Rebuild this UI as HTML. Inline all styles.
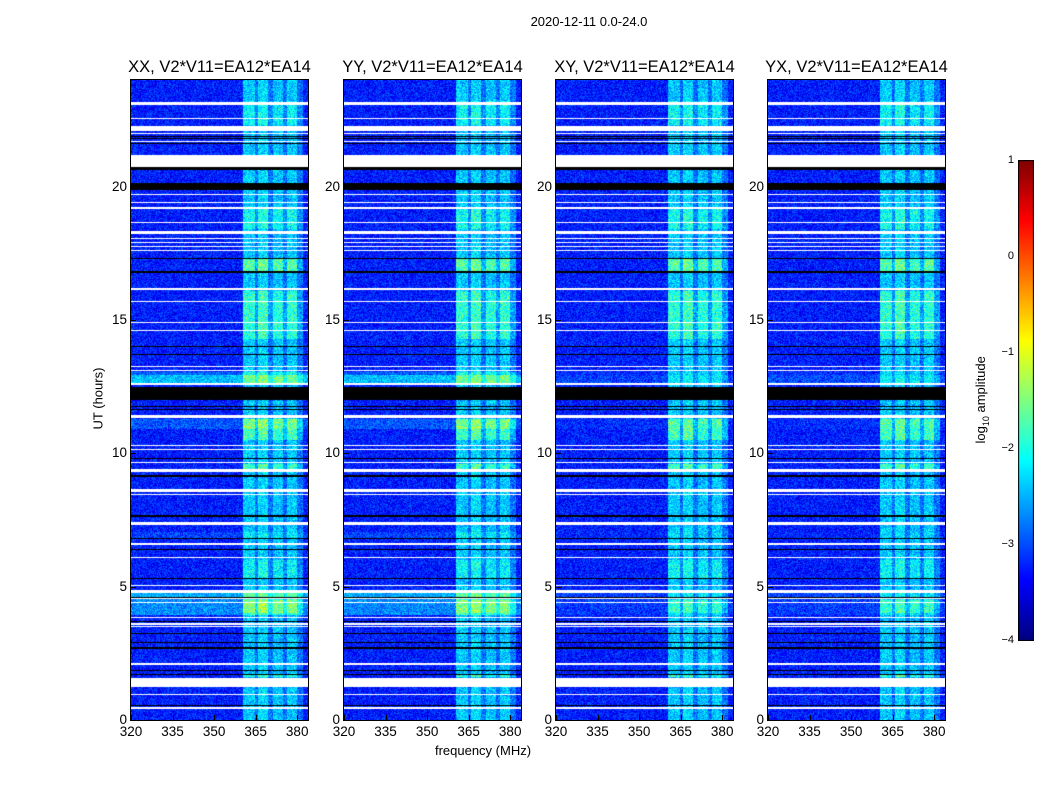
<!DOCTYPE html>
<html><head><meta charset="utf-8"><style>
body{margin:0;background:#fff;width:1050px;height:800px;position:relative;overflow:hidden;font-family:"Liberation Sans",sans-serif;}
.t{position:absolute;white-space:nowrap;color:#000;}
canvas{position:absolute;}
</style></head><body>
<div class="t" style="left:489px;top:14px;width:200px;text-align:center;font-size:13px">2020-12-11 0.0-24.0</div>
<div class="t" style="left:48px;top:391px;width:100px;text-align:center;font-size:13px;transform:rotate(-90deg)">UT (hours)</div>
<div class="t" style="left:383px;top:743px;width:200px;text-align:center;font-size:13px">frequency (MHz)</div>
<div class="t" style="left:922px;top:391px;width:120px;text-align:center;font-size:13px;transform:rotate(-90deg)">log<sub style="font-size:9px">10</sub> amplitude</div>
<canvas id="cb" width="16" height="481" style="left:1018px;top:160px"></canvas>
<div id="root"></div>
<script>
const panelTitles=["XX, V2*V11=EA12*EA14","YY, V2*V11=EA12*EA14","XY, V2*V11=EA12*EA14","YX, V2*V11=EA12*EA14"];
const panelLefts=[131,344,556,768];
const xTicks=[320,335,350,365,380];
const yTicks=[0,5,10,15,20];
const cbTicks=[1,0,-1,-2,-3,-4];
const whiteBands=[[23.06,23.17],[22.55,22.59],[22.09,22.27],[21.99,22.03],[21.69,21.73],[20.74,21.19],[19.7,19.74],[19.37,19.41],[19.18,19.22],[18.65,18.69],[18.22,18.34],[18.05,18.09],[17.9,17.94],[17.75,17.79],[17.6,17.64],[16.12,16.2],[15.69,15.73],[14.87,14.91],[14.6,14.64],[13.22,13.26],[13.07,13.11],[12.56,12.64],[11.32,11.44],[10.29,10.33],[10.14,10.18],[9.65,9.69],[9.3,9.41],[8.55,8.66],[8.42,8.46],[7.31,7.42],[6.58,6.62],[6.09,6.13],[5.04,5.08],[4.76,4.87],[4.55,4.59],[4.37,4.41],[3.82,3.86],[3.58,3.62],[3.47,3.51],[2.08,2.12],[1.24,1.575],[0.95,0.99],[0.43,0.47]];
const blackBands=[[21.86,21.9],[21.78,21.82],[21.6,21.64],[20.62,20.74],[19.87,20.14],[17.3,17.34],[16.78,16.82],[14.0,14.04],[13.7,13.74],[12.0,12.5],[11.72,11.76],[11.64,11.68],[9.8,9.84],[9.13,9.17],[7.63,7.67],[6.8,6.84],[6.39,6.43],[5.3,5.34],[4.59,4.63],[3.69,3.73],[3.24,3.28],[2.9,2.94],[2.68,2.72],[1.82,1.86],[1.67,1.71],[0.54,0.58]];
const rowLevels=[[12.64,12.95,0.8],[12.95,13.05,0.35],[3.95,4.55,0.55],[4.63,4.76,0.7],[10.9,11.3,0.3],[6.8,7.05,0.2]];
const panelRowScale=[1,1,0.25,0.3];
const colBands=[[360.5,364.8,0.55],[365.8,369.5,0.65],[371.3,374.9,0.5],[376.3,380,0.55],[360.5,382,0.55]];
const colRowGain=[[16.85,17.3,1.5],[14.3,16.1,1.3],[10.5,11.3,1.4],[9.4,9.6,1.4],[4.0,4.5,1.2],[5.3,6.0,1.1],[22.3,23.2,1.1],[18.4,19.2,1.15],[1.6,1.7,1.3]];
const baseLevel=-3.25;
function jet(v){v=Math.max(0,Math.min(1,v));
 const f=x=>Math.max(0,Math.min(1,x));
 return [f(1.5-Math.abs(4*v-3))*255,f(1.5-Math.abs(4*v-2))*255,f(1.5-Math.abs(4*v-1))*255];}
function hash(a,b){let h=(a*374761393+b*668265263)|0;h=(h^(h>>>13))*1274126177|0;return ((h^(h>>>16))>>>0)/4294967295;}
const W=177,H=640,F0=320,FPX=2.77,HPX=640/24;
const root=document.getElementById('root');
function inBands(h,arr){for(const b of arr)if(h>=b[0]&&h<=b[1])return b;return null;}
panelLefts.forEach((L,p)=>{
 const c=document.createElement('canvas');c.width=W;c.height=H;c.style.left=L+'px';c.style.top='80px';
 
 
 root.appendChild(c);
 const ctx=c.getContext('2d');const im=ctx.createImageData(W,H);
 for(let y=0;y<H;y++){const h=24-(y+0.5)/HPX;
  const wb=inBands(h,whiteBands),bb=inBands(h,blackBands);
  const rl=inBands(h,rowLevels);const rowAdd=rl?rl[2]*panelRowScale[p]:0;
  const cg=inBands(h,colRowGain);const gain=cg?cg[2]:0.85;
  for(let x=0;x<W;x++){const i=(y*W+x)*4;let col;
   if(wb)col=[255,255,255];else if(bb)col=[0,0,0];else{
    const f=F0+(x+0.5)/FPX;let v=baseLevel+rowAdd+(hash(x+p*1000,y)-0.5)*0.75;
    for(const b of colBands)if(f>=b[0]&&f<=b[1])v+=b[2]*gain*(0.75+0.35*hash(y,x+7));
    col=jet((v+4)/5);}
   im.data[i]=col[0];im.data[i+1]=col[1];im.data[i+2]=col[2];im.data[i+3]=255;}}
 ctx.putImageData(im,0,0);
 const fr=document.createElement('div');
 
 
 fr.style.cssText=`position:absolute;left:${L-1}px;top:79px;width:${W}px;height:${H}px;border:1px solid #000`;root.appendChild(fr);
 const t=document.createElement('div');t.className='t';t.textContent=panelTitles[p];
 
 
 t.style.cssText=`left:${L-30}px;top:58px;width:${W+60}px;text-align:center;font-size:16.5px`;root.appendChild(t);
 xTicks.forEach(v=>{const x=L+(v-F0)*FPX;
  const lb=document.createElement('div');lb.className='t';lb.textContent=v;
  
  
  lb.style.cssText=`left:${x-20}px;top:724px;width:40px;text-align:center;font-size:13.5px`;root.appendChild(lb);
  const tk=document.createElement('div');
  
  
  tk.style.cssText=`position:absolute;left:${x}px;top:715px;width:1px;height:5px;background:#000`;root.appendChild(tk);});
 yTicks.forEach(v=>{const y=720-v*HPX;
  const lb=document.createElement('div');lb.className='t';lb.textContent=v;
  
  
  lb.style.cssText=`left:${L-44}px;top:${y-8}px;width:40px;text-align:right;font-size:13.5px`;root.appendChild(lb);
  const tk=document.createElement('div');
  
  
  tk.style.cssText=`position:absolute;left:${L}px;top:${y}px;width:5px;height:1px;background:#000`;root.appendChild(tk);});
});
const cb=document.getElementById('cb').getContext('2d');
for(let y=0;y<481;y++){const c=jet(1-y/480);cb.fillStyle=`rgb(${c[0]|0},${c[1]|0},${c[2]|0})`;cb.fillRect(0,y,16,1);}
cb.strokeStyle='#000';cb.strokeRect(0.5,0.5,15,480);
cbTicks.forEach(v=>{const y=160+(1-v)*96;
 const lb=document.createElement('div');lb.className='t';lb.textContent=v<0?'\u2212'+(-v):v;
 
 
 lb.style.cssText=`left:990px;top:${y-6}px;width:24px;text-align:right;font-size:11px`;root.appendChild(lb);});
</script>
</body></html>
